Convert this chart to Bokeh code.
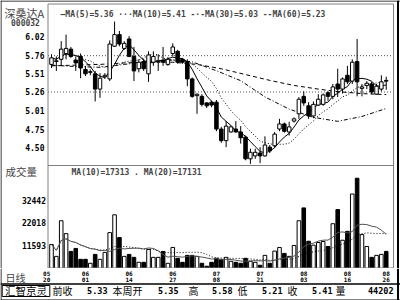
import numpy as np
import pandas as pd
from bokeh.plotting import figure
from bokeh.layouts import column
from bokeh.models import ColumnDataSource, Range1d, Label, Span
from bokeh.core.properties import value
from bokeh.embed import file_html
from bokeh.resources import INLINE

# ---------------- data ----------------
stock_name = "深桑达A"
stock_code = "000032"

opens = [5.64, 5.68, 5.71, 5.79, 5.85, 5.70, 5.75, 5.57, 5.53, 5.51,
         5.30, 5.47, 5.44, 5.89, 6.05, 5.86, 5.99, 5.75, 5.58, 5.68,
         5.51, 5.67, 5.68, 5.70, 5.64, 5.79, 5.82, 5.71, 5.68, 5.44,
         5.21, 5.20, 5.11, 5.12, 5.12, 4.75, 4.59, 4.71, 4.75, 4.71,
         4.64, 4.34, 4.38, 4.42, 4.38, 4.50, 4.52, 4.75, 4.82, 4.71,
         4.86, 4.96, 5.20, 5.07, 4.93, 5.08, 5.09, 5.25, 5.20, 5.37,
         5.30, 5.49, 5.41, 5.68, 5.31, 5.35, 5.37, 5.23, 5.30, 5.42]
highs = [5.78, 5.75, 5.96, 6.05, 5.88, 5.75, 5.79, 5.62, 5.57, 5.55,
         5.52, 5.52, 5.97, 6.23, 6.10, 5.96, 6.03, 5.88, 5.71, 5.72,
         5.82, 5.82, 5.78, 5.88, 5.74, 5.93, 5.84, 5.73, 5.71, 5.46,
         5.24, 5.23, 5.12, 5.14, 5.15, 4.78, 4.86, 4.80, 4.86, 4.79,
         4.66, 4.48, 4.48, 4.50, 4.65, 4.53, 4.71, 4.89, 4.84, 4.85,
         4.91, 5.19, 5.27, 5.12, 5.13, 5.23, 5.24, 5.27, 5.37, 5.58,
         5.46, 5.62, 5.71, 5.99, 5.37, 5.41, 5.40, 5.37, 5.49, 5.47]
lows = [5.59, 5.55, 5.62, 5.71, 5.73, 5.55, 5.45, 5.48, 5.49, 5.13,
        5.18, 5.44, 5.41, 5.88, 5.89, 5.84, 5.74, 5.41, 5.53, 5.55,
        5.40, 5.62, 5.55, 5.62, 5.62, 5.75, 5.65, 5.65, 5.34, 5.18,
        4.96, 5.06, 5.04, 5.05, 4.72, 4.56, 4.50, 4.70, 4.70, 4.55,
        4.32, 4.27, 4.34, 4.28, 4.37, 4.42, 4.49, 4.72, 4.70, 4.66,
        4.84, 4.89, 5.07, 4.89, 4.90, 5.07, 5.07, 5.14, 5.16, 5.19,
        5.24, 5.37, 5.37, 5.20, 5.20, 5.30, 5.23, 5.22, 5.27, 5.29]
closes = [5.73, 5.69, 5.85, 5.86, 5.75, 5.66, 5.59, 5.51, 5.54, 5.30,
          5.45, 5.49, 5.92, 6.05, 5.92, 5.93, 5.75, 5.55, 5.67, 5.58,
          5.77, 5.75, 5.69, 5.67, 5.71, 5.88, 5.67, 5.67, 5.44, 5.20,
          5.23, 5.09, 5.07, 5.08, 4.75, 4.59, 4.79, 4.78, 4.71, 4.63,
          4.34, 4.43, 4.43, 4.38, 4.53, 4.45, 4.68, 4.82, 4.72, 4.78,
          4.89, 5.16, 5.11, 4.93, 5.09, 5.16, 5.22, 5.20, 5.33, 5.30,
          5.44, 5.40, 5.67, 5.40, 5.33, 5.38, 5.26, 5.34, 5.40, 5.41]
volumes = [12050, 6550, 23050, 17090, 8840, 10220, 5180, 5180, 3340, 7470,
           5180, 8390, 17550, 25800, 15260, 6550, 7470, 6090, 3800, 3800,
           9760, 6090, 6090, 8840, 3340, 10680, 5640, 3800, 7010, 7010,
           6550, 3340, 1970, 3800, 5640, 5180, 6090, 4260, 3800, 3340,
           5640, 4260, 3800, 2430, 7010, 3340, 9000, 10680, 7930, 6550,
           11590, 23050, 29000, 13560, 11730, 12970, 13430, 11130, 21670, 28230,
           14020, 18140, 35420, 42750, 16630, 11130, 6090, 7010, 7470, 8840]

ma30_idx = [0, 5, 10, 15, 20, 25, 29, 34, 39, 44, 49, 54, 59, 64, 69]
ma30_val = [5.63, 5.61, 5.60, 5.64, 5.68, 5.70, 5.675, 5.553, 5.416, 5.192,
            5.024, 4.911, 4.856, 4.923, 5.033]
ma60_idx = [0, 5, 10, 15, 20, 25, 30, 35, 40, 45, 50, 55, 59, 64, 69]
ma60_val = [5.62, 5.63, 5.64, 5.66, 5.67, 5.67, 5.64, 5.58, 5.50, 5.42,
            5.35, 5.30, 5.265, 5.238, 5.224]

price_ticks = [6.02, 5.76, 5.51, 5.26, 5.01, 4.75, 4.50]
price_grid = [5.76, 5.26]
volume_ticks = [11593, 22018, 32442]
tick_idx = [-1, 7, 16, 25, 34, 43, 52, 61, 69]
tick_month = ["05", "06", "06", "06", "07", "07", "08", "08", "08"]
tick_day = ["20", "01", "14", "27", "08", "21", "03", "16", "26"]

ma_legend = "—MA(5)=5.36 ···MA(10)=5.41 -·-MA(30)=5.03 --MA(60)=5.23"
vol_legend = "MA(10)=17313 . MA(20)=17131"
vol_title = "成交量"
period_label = "日线"
brand = "汇智京灵"
status_names = ["前收", "本周开", "高", "低", "收", "量"]
status_values = ["5.33", "5.35", "5.58", "5.21", "5.41", "44202"]

# ---------------- layout calibration (pixels) ----------------
MONO = "DejaVu Sans Mono"
CJK = "Noto Sans CJK SC"
GRAY = "#808080"

BAR0_PX, BAR_STEP = 51.0, 4.851          # page x of first bar, px per bar
PLOT_L, PLOT_R = 47.5, 393.0             # plot area edges (page x)
MAIN_H = 268                              # price + volume panels
BOT_H = 32                                # date strip + status bar
PRICE_REF, PRICE_REF_PX, PRICE_SCALE = 6.02, 36.3, 72.63
VOL_ZERO_PX, VOL_SCALE = 270.0, 0.0021585


def xi(px):
    return (px - BAR0_PX) / BAR_STEP


def pr(py):
    return PRICE_REF - (py - PRICE_REF_PX) / PRICE_SCALE


def vo(py):
    return (VOL_ZERO_PX - py) / VOL_SCALE


def by(py):  # bottom figure: page y -> data y
    return 300 - py


# ---------------- derived ----------------
df = pd.DataFrame(dict(i=np.arange(len(closes)), o=opens, h=highs, l=lows, c=closes, v=volumes))
df["top"] = df[["o", "c"]].max(axis=1)
df["bot"] = df[["o", "c"]].min(axis=1)
df["fill"] = np.where(df["c"] >= df["o"], "white", "black")
df["ma5"] = df["c"].rolling(5, min_periods=1).mean()
df["ma10"] = df["c"].rolling(10, min_periods=1).mean()
df["vma10"] = df["v"].rolling(10, min_periods=1).mean()
df["vma20"] = df["v"].rolling(20, min_periods=1).mean()
src = ColumnDataSource(df)

xr = Range1d(xi(0), xi(400))


def base_fig(h, yr):
    f = figure(width=400, height=h, x_range=xr, y_range=yr, toolbar_location=None,
               output_backend="svg", tools="", x_axis_location=None, y_axis_location=None,
               min_border=0)
    f.grid.visible = False
    f.outline_line_color = None
    f.background_fill_color = "white"
    f.border_fill_color = "white"
    return f


def vline(f, px, color, w=1):
    f.add_layout(Span(location=xi(px), dimension="height", line_color=color, line_width=w))


# ================= main figure: price (0..165) + volume (165..268) =================
p1 = base_fig(MAIN_H, Range1d(pr(MAIN_H), pr(0)))
p1.extra_y_ranges = {"vol": Range1d(vo(MAIN_H), vo(0))}

# --- price panel ---
for lvl in price_grid:
    p1.segment(x0=xi(PLOT_L), x1=xi(PLOT_R), y0=lvl, y1=lvl, line_color="#505050",
               line_dash="1 2", line_width=1)

p1.line(x=ma60_idx, y=ma60_val, line_color="black", line_dash="4 3", line_width=1)
p1.line(x=ma30_idx, y=ma30_val, line_color="black", line_dash="4 2 1 2", line_width=1)
p1.line("i", "ma10", source=src, line_color="black", line_dash="1 2", line_width=1)
p1.line("i", "ma5", source=src, line_color="black", line_width=1)

p1.segment(x0="i", y0="h", x1="i", y1="l", source=src, line_color="black", line_width=1)
p1.vbar(x="i", top="top", bottom="bot", width=0.72, source=src,
        fill_color="fill", line_color="black", line_width=1)

p1.text(x=[xi(44)] * len(price_ticks), y=price_ticks, text=["%.2f" % t for t in price_ticks],
        text_align="right", text_baseline="middle", text_font=value(MONO),
        text_font_style="bold", text_font_size="8px", text_color="black")

# --- volume panel ---
p1.vbar(x="i", top="v", bottom=0, width=0.74, source=src, y_range_name="vol",
        fill_color="fill", line_color="black", line_width=1)
p1.line("i", "vma20", source=src, y_range_name="vol", line_color="black", line_dash="1 2", line_width=1)
p1.line("i", "vma10", source=src, y_range_name="vol", line_color="#505050", line_width=1)
p1.text(x=[xi(45.5)] * len(volume_ticks), y=volume_ticks, text=["%d" % t for t in volume_ticks],
        y_range_name="vol", text_align="right", text_baseline="middle", text_font=value(MONO),
        text_font_style="bold", text_font_size="8px", text_color="black")

# --- frame lines ---
for py in (3.5, 165, 267.5):
    p1.segment(x0=[xi(PLOT_L)], x1=[xi(PLOT_R)], y0=[pr(py)], y1=[pr(py)], line_color=GRAY)
for px in (PLOT_L, PLOT_R):
    p1.segment(x0=[xi(px)], x1=[xi(px)], y0=[pr(3.5)], y1=[pr(MAIN_H)], line_color=GRAY)
p1.segment(x0=[xi(0)], x1=[xi(400)], y0=[pr(0.5)], y1=[pr(0.5)], line_color="black")
vline(p1, 0.5, "black")
vline(p1, 397.5, "black", 2)

# --- texts ---
p1.add_layout(Label(x=60, y=MAIN_H - 13.7, x_units="screen", y_units="screen", text=ma_legend,
                    text_font=MONO, text_font_style="bold", text_font_size="8px",
                    text_baseline="middle"))
p1.add_layout(Label(x=4, y=MAIN_H - 12, x_units="screen", y_units="screen", text=stock_name,
                    text_font=CJK, text_font_size="11px", text_baseline="middle"))
p1.add_layout(Label(x=10.5, y=MAIN_H - 22.3, x_units="screen", y_units="screen", text=stock_code,
                    text_font=MONO, text_font_style="bold", text_font_size="8px",
                    text_baseline="middle"))
p1.add_layout(Label(x=71, y=MAIN_H - 171.7, x_units="screen", y_units="screen", text=vol_legend,
                    text_font=MONO, text_font_style="bold", text_font_size="8px",
                    text_baseline="middle"))
p1.add_layout(Label(x=5, y=MAIN_H - 170.5, x_units="screen", y_units="screen", text=vol_title,
                    text_font=CJK, text_font_size="10.5px", text_baseline="middle"))

# ================= bottom figure: dates (268..283) + status (283..300) =================
p3 = base_fig(BOT_H, Range1d(0, BOT_H))
tick_src = ColumnDataSource(dict(x=tick_idx, m=tick_month, d=tick_day))
p3.text(x="x", y=by(273.3), text="m", source=tick_src, text_align="center", text_baseline="middle",
        text_font=value(MONO), text_font_style="bold", text_font_size="6px", text_color="black")
p3.text(x="x", y=by(279.3), text="d", source=tick_src, text_align="center", text_baseline="middle",
        text_font=value(MONO), text_font_style="bold", text_font_size="6px", text_color="black")
p3.add_layout(Label(x=5, y=by(276.7), x_units="screen", y_units="screen", text=period_label,
                    text_font=CJK, text_font_size="10px", text_baseline="middle"))

vline(p3, 0.5, "black")
vline(p3, 397.5, "black", 2)
p3.segment(x0=[xi(0)], x1=[xi(400)], y0=[by(283.5)], y1=[by(283.5)], line_color="black", line_width=1.5)
p3.segment(x0=[xi(0)], x1=[xi(400)], y0=[by(299.5)], y1=[by(299.5)], line_color="black", line_width=1)

p3.quad(left=[xi(1.7)], right=[xi(49.3)], bottom=[by(296)], top=[by(285)],
        fill_color=None, line_color="black")
p3.text(x=[xi(25.5)], y=[by(290.4)], text=[brand], text_align="center", text_baseline="middle",
        text_font=value(CJK), text_font_size="10.5px", text_color="black")
name_px = [52, 112, 188, 237, 287, 335]
value_px = [107, 178, 232, 282, 332, 393]
p3.text(x=[xi(v) for v in name_px], y=[by(290.2)] * 6, text=status_names, text_align="left",
        text_baseline="middle", text_font=value(CJK), text_font_size="10px", text_color="black")
p3.text(x=[xi(v) for v in value_px], y=[by(290.4)] * 6, text=status_values, text_align="right",
        text_baseline="middle", text_font=value(MONO), text_font_style="bold",
        text_font_size="8.5px", text_color="black")

layout = column(p1, p3, spacing=0)
open("out.html", "w").write(file_html(layout, INLINE))
